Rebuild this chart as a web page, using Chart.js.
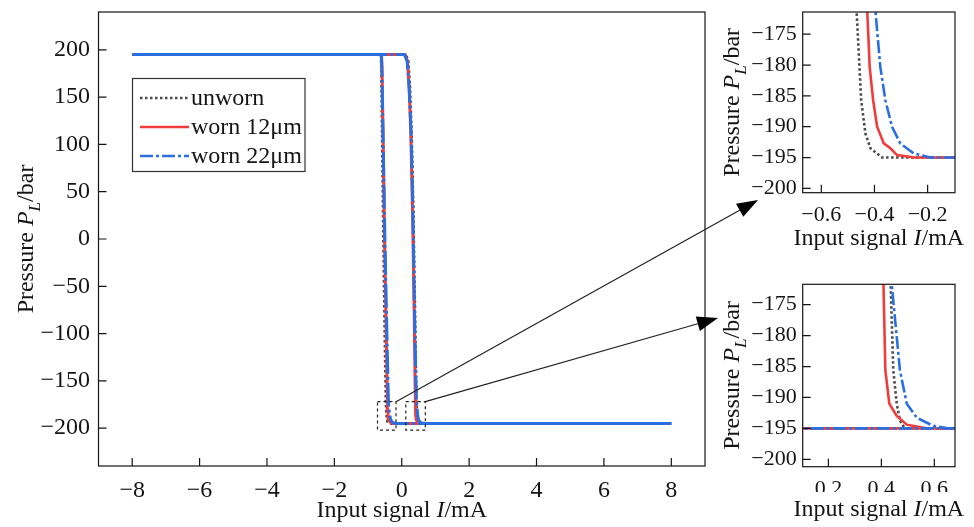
<!DOCTYPE html>
<html>
<head>
<meta charset="utf-8">
<script src="https://cdn.jsdelivr.net/npm/chart.js@4.4.1/dist/chart.umd.min.js"></script>
<style>
  html, body { margin: 0; padding: 0; background: #fff; }
  #stage { position: relative; width: 974px; height: 527px; overflow: hidden; }
  #stage canvas { position: absolute; }
  #main-chart { left: 0; top: 0; }
  #inset-neg { left: 700px; top: 0; }
  #inset-pos { left: 700px; top: 270px; }
</style>
</head>
<body>
<div id="stage">
  <canvas id="main-chart" width="974" height="527"></canvas>
  <canvas id="inset-neg" width="274" height="262"></canvas>
  <canvas id="inset-pos" width="274" height="257"></canvas>
</div>
<script>
const seriesLabels = ["unworn", "worn 12μm", "worn 22μm"];

// Each loop: current swept -8 → 8 (upper plateau, drop), then 8 → -8 (lower plateau, rise).
const unwornI = [-8, 0.12, 0.19, 0.24, 0.29, 0.34, 0.39, 0.42, 0.435, 0.445, 0.458, 0.47, 0.482, 0.496, 0.55, 8,
  -0.371, -0.415, -0.434, -0.45, -0.467, -0.5, -0.54, -0.575, -0.6, -0.615, -8];
const unwornP = [195, 195, 188, 160, 110, 30, -80, -150, -171.7, -185.6, -191, -193.7, -194.6, -195, -195, -195,
  -195, -193.5, -191.1, -185.7, -171.4, -100, 0, 100, 180, 195, 195];

const worn12I = [-8, 0.1, 0.17, 0.22, 0.27, 0.32, 0.37, 0.395, 0.408, 0.415, 0.43, 0.458, 0.496, 0.571, 8,
  -0.25, -0.315, -0.34, -0.365, -0.39, -0.405, -0.418, -0.427, -0.46, -0.51, -0.55, -0.585, -0.6, -8];
const worn12P = [195, 195, 188, 160, 110, 30, -80, -150, -171.7, -185.6, -191, -193, -194.4, -195, -195,
  -195, -194.6, -193.5, -192.7, -190, -185.7, -180.3, -171.4, -100, 0, 100, 180, 195, 195];

const worn22I = [-8, 0.08, 0.16, 0.22, 0.28, 0.33, 0.38, 0.42, 0.439, 0.458, 0.47, 0.496, 0.534, 0.596, 0.65, 8,
  -0.19, -0.253, -0.303, -0.334, -0.359, -0.378, -0.396, -0.44, -0.5, -0.55, -0.59, -0.605, -8];
const worn22P = [195, 195, 188, 160, 110, 30, -80, -150, -171.7, -180.2, -185.6, -191, -193.3, -194.6, -195, -195,
  -195, -194.3, -192.7, -190, -185.7, -180.3, -171.4, -100, 0, 100, 180, 195, 195];

const mainXTicks = [-8, -6, -4, -2, 0, 2, 4, 6, 8];
const mainYTicks = [-200, -150, -100, -50, 0, 50, 100, 150, 200];
const negXTicks = [-0.6, -0.4, -0.2];
const posXTicks = [0.2, 0.4, 0.6];
const insetYTicks = [-200, -195, -190, -185, -180, -175];

const FONT = '"Liberation Serif", "Times New Roman", serif';
const INK = "#151515";

// draw order: lower "order" ends up on top, so the dash-dot blue sits over the others
const seriesStyles = [
  { color: "#4a4a4a", dashMain: [2.5, 2.5], dashInset: [2.5, 2.5], order: 2 },
  { color: "#f03c3c", dashMain: [], dashInset: [], order: 1 },
  { color: "#2a6fe0", dashMain: [24, 3, 3, 3], dashInset: [13, 3, 3, 3], order: 0 }
];

// dashed windows on the main plot that the insets enlarge
const zoomWindows = [
  { xMin: -0.72, xMax: -0.17, yMin: -202, yMax: -172, arrowTo: [758, 200] },
  { xMin: 0.12, xMax: 0.7, yMin: -202, yMax: -172, arrowTo: [718, 318] }
];

const yTitle = [
  { text: "Pressure " },
  { text: "P", italic: true },
  { text: "L", italic: true, sub: true },
  { text: "/bar" }
];
const xTitle = [
  { text: "Input signal " },
  { text: "I", italic: true },
  { text: "/mA" }
];

function toPoints(xs, ys) {
  return xs.map((x, i) => ({ x, y: ys[i] }));
}

const loops = [toPoints(unwornI, unwornP), toPoints(worn12I, worn12P), toPoints(worn22I, worn22P)];

function formatTick(v, decimals) {
  const s = Math.abs(v).toFixed(decimals);
  return v < 0 ? "\u2212" + s : s;
}

function drawRichText(ctx, parts, x, y, size, rotate) {
  ctx.save();
  ctx.translate(x, y);
  if (rotate) ctx.rotate(-Math.PI / 2);
  ctx.fillStyle = INK;
  ctx.textAlign = "left";
  ctx.textBaseline = "alphabetic";
  const fonts = parts.map((p) => `${p.italic ? "italic " : ""}${p.sub ? Math.round(size * 0.72) : size}px ${FONT}`);
  const widths = parts.map((p, i) => {
    ctx.font = fonts[i];
    return ctx.measureText(p.text).width;
  });
  let cx = -widths.reduce((a, b) => a + b, 0) / 2;
  parts.forEach((p, i) => {
    ctx.font = fonts[i];
    ctx.fillText(p.text, cx, p.sub ? size * 0.28 : 0);
    cx += widths[i];
  });
  ctx.restore();
}

// frame, inward tick marks and axis titles
const framePlugin = {
  id: "frame",
  afterDraw(chart, args, opts) {
    const { ctx, chartArea: a, scales } = chart;
    ctx.save();
    if (opts.maskBelow) {
      ctx.fillStyle = "#fff";
      ctx.fillRect(0, opts.maskBelow, chart.width, chart.height - opts.maskBelow);
    }
    ctx.strokeStyle = INK;
    ctx.lineWidth = 1.2;
    ctx.strokeRect(a.left, a.top, a.right - a.left, a.bottom - a.top);
    ctx.beginPath();
    scales.x.ticks.forEach((t) => {
      const px = scales.x.getPixelForValue(t.value);
      ctx.moveTo(px, a.bottom);
      ctx.lineTo(px, a.bottom - opts.tickLen);
    });
    scales.y.ticks.forEach((t) => {
      const py = scales.y.getPixelForValue(t.value);
      ctx.moveTo(a.left, py);
      ctx.lineTo(a.left + opts.tickLen, py);
    });
    ctx.stroke();
    ctx.restore();
    drawRichText(ctx, xTitle, (a.left + a.right) / 2, opts.xTitleY, opts.titleSize, false);
    drawRichText(ctx, yTitle, opts.yTitleX, (a.top + a.bottom) / 2, opts.titleSize, true);
  }
};

// legend box, zoom windows and the arrows leading to the insets
const annotatePlugin = {
  id: "annotate",
  afterDraw(chart) {
    const { ctx, scales } = chart;
    ctx.save();
    ctx.fillStyle = "#fff";
    ctx.fillRect(132.5, 78.5, 172.5, 93);
    ctx.strokeStyle = "#333";
    ctx.lineWidth = 1.2;
    ctx.strokeRect(132.5, 78.5, 172.5, 93);
    chart.data.datasets.forEach((ds, i) => {
      const y = 98 + i * 29;
      ctx.beginPath();
      ctx.strokeStyle = ds.borderColor;
      ctx.lineWidth = 2.6;
      ctx.setLineDash(seriesStyles[i].dashInset);
      ctx.moveTo(140, y);
      ctx.lineTo(189, y);
      ctx.stroke();
      ctx.setLineDash([]);
      ctx.fillStyle = INK;
      ctx.font = `24px ${FONT}`;
      ctx.textBaseline = "middle";
      ctx.fillText(ds.label, 191, y + 1);
    });

    zoomWindows.forEach((w) => {
      const x0 = scales.x.getPixelForValue(w.xMin);
      const x1 = scales.x.getPixelForValue(w.xMax);
      const y0 = scales.y.getPixelForValue(w.yMax);
      const y1 = scales.y.getPixelForValue(w.yMin);
      ctx.strokeStyle = "#222";
      ctx.lineWidth = 1.2;
      ctx.setLineDash([3, 3]);
      ctx.strokeRect(x0, y0, x1 - x0, y1 - y0);
      ctx.setLineDash([]);

      const [tx, ty] = w.arrowTo;
      const ang = Math.atan2(ty - y0, tx - x1);
      const headLen = 21;
      const headHalf = 7.5;
      const bx = tx - headLen * Math.cos(ang);
      const by = ty - headLen * Math.sin(ang);
      ctx.beginPath();
      ctx.moveTo(x1, y0);
      ctx.lineTo(bx, by);
      ctx.stroke();
      ctx.beginPath();
      ctx.fillStyle = "#000";
      ctx.moveTo(tx, ty);
      ctx.lineTo(bx + headHalf * Math.sin(ang), by - headHalf * Math.cos(ang));
      ctx.lineTo(bx - headHalf * Math.sin(ang), by + headHalf * Math.cos(ang));
      ctx.closePath();
      ctx.fill();
    });
    ctx.restore();
  }
};

function makeChart(canvas, cfg) {
  const datasets = loops.map((pts, i) => ({
    label: seriesLabels[i],
    data: pts,
    order: seriesStyles[i].order,
    showLine: true,
    borderColor: seriesStyles[i].color,
    backgroundColor: seriesStyles[i].color,
    borderWidth: cfg.lineWidth,
    borderDash: cfg.inset ? seriesStyles[i].dashInset : seriesStyles[i].dashMain,
    pointRadius: 0,
    tension: 0,
    fill: false
  }));

  const tickFont = { family: FONT, size: cfg.tickSize };

  return new Chart(canvas, {
    type: "scatter",
    data: { datasets },
    options: {
      responsive: false,
      animation: false,
      events: [],
      layout: { padding: cfg.padding },
      plugins: {
        legend: { display: false },
        tooltip: { enabled: false },
        frame: {
          tickLen: 8,
          titleSize: cfg.titleSize,
          xTitleY: cfg.xTitleY,
          yTitleX: cfg.yTitleX,
          maskBelow: cfg.maskBelow || 0
        }
      },
      scales: {
        x: {
          type: "linear",
          min: cfg.xMin,
          max: cfg.xMax,
          grid: { display: false, drawTicks: false, tickLength: 0 },
          border: { display: false },
          ticks: {
            color: INK,
            font: tickFont,
            padding: cfg.xTickPad,
            maxRotation: 0,
            callback: (v) => formatTick(v, cfg.xDecimals)
          },
          afterBuildTicks: (scale) => {
            scale.ticks = cfg.xTicks.map((value) => ({ value }));
          },
          afterFit: (scale) => {
            scale.height = cfg.xHeight;
            scale.paddingLeft = 0;
            scale.paddingRight = 0;
          }
        },
        y: {
          type: "linear",
          min: cfg.yMin,
          max: cfg.yMax,
          grid: { display: false, drawTicks: false, tickLength: 0 },
          border: { display: false },
          ticks: {
            color: INK,
            font: tickFont,
            padding: cfg.yTickPad,
            callback: (v) => formatTick(v, 0)
          },
          afterBuildTicks: (scale) => {
            scale.ticks = cfg.yTicks.map((value) => ({ value }));
          },
          afterFit: (scale) => {
            scale.width = cfg.yWidth;
            scale.paddingTop = 0;
            scale.paddingBottom = 0;
          }
        }
      }
    },
    plugins: cfg.inset ? [framePlugin] : [framePlugin, annotatePlugin]
  });
}

makeChart(document.getElementById("main-chart"), {
  xMin: -9, xMax: 9, yMin: -240, yMax: 240,
  xTicks: mainXTicks, yTicks: mainYTicks, xDecimals: 0,
  padding: { left: 0, right: 269, top: 12, bottom: 0 },
  yWidth: 98.5, xHeight: 61,
  lineWidth: 3, tickSize: 24, titleSize: 24,
  xTickPad: 10, yTickPad: 8.5,
  xTitleY: 517, yTitleX: 33
});

makeChart(document.getElementById("inset-neg"), {
  inset: true,
  xMin: -0.67, xMax: -0.097, yMin: -200.7, yMax: -171.4,
  xTicks: negXTicks, yTicks: insetYTicks, xDecimals: 1,
  padding: { left: 0, right: 19, top: 12, bottom: 0 },
  yWidth: 102.7, xHeight: 69.3,
  lineWidth: 2.6, tickSize: 22, titleSize: 24,
  xTickPad: 9, yTickPad: 6,
  xTitleY: 245, yTitleX: 39
});

makeChart(document.getElementById("inset-pos"), {
  inset: true,
  xMin: 0.103, xMax: 0.678, yMin: -201.2, yMax: -171.7,
  xTicks: posXTicks, yTicks: insetYTicks, xDecimals: 1,
  padding: { left: 0, right: 19, top: 14.3, bottom: 0 },
  yWidth: 102.7, xHeight: 60.3,
  lineWidth: 2.6, tickSize: 22, titleSize: 24,
  xTickPad: 9, yTickPad: 6,
  xTitleY: 246, yTitleX: 39,
  maskBelow: 222
});
</script>
</body>
</html>
